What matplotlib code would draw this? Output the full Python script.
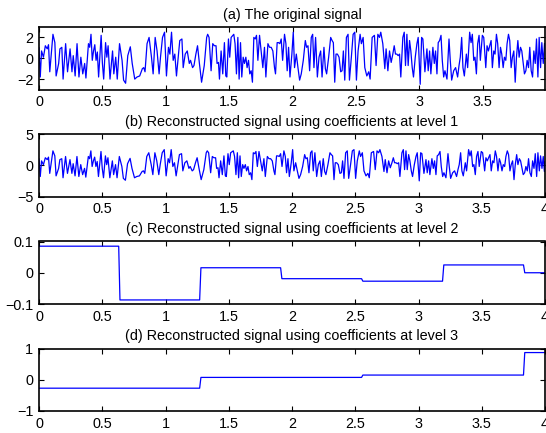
import matplotlib
matplotlib.use("Agg")
import matplotlib.pyplot as plt

plt.rcParams['font.family'] = ['Liberation Sans', 'DejaVu Sans']

# (time, value) vertices
original_seg1 = [(0.00,1.0),(0.01,-1.8),(0.02,0.7),(0.035,0.1),(0.05,1.2),(0.065,0.9),(0.075,1.3),(0.085,-1.3),
    (0.11,2.3),(0.125,1.5),(0.135,-1.7),(0.155,-0.5),(0.165,0.9),(0.18,1.05),(0.19,-2.0),(0.21,1.4),(0.225,-1.3),
    (0.245,0.9),(0.26,-1.3),(0.27,0.25),(0.285,-1.7),(0.30,1.4),(0.315,-1.8),(0.33,0.1),(0.345,-1.5),(0.36,-0.5),
    (0.37,-1.9),(0.39,1.4),(0.40,1.05),(0.41,2.3),(0.42,-0.2),(0.43,0.7),(0.44,1.3),(0.45,-0.2),(0.46,0.6),(0.47,-1.8),
    (0.49,2.2),(0.50,-0.5),(0.51,-2.0),(0.525,1.5),(0.535,0.1),(0.545,1.2),(0.56,-2.0),(0.58,0.7),(0.59,-1.5),
    (0.605,0.1),(0.617,-2.0),(0.635,1.4),(0.655,-0.2),(0.667,-2.1),(0.683,-2.4),(0.70,0.25),(0.72,1.1),(0.735,-0.5),
    (0.755,-2.0),(0.773,-1.8),(0.794,-1.7),(0.815,-1.0),(0.826,-0.9),(0.836,-1.3),(0.852,1.4),(0.868,2.0),(0.887,0.1),
    (0.90,-1.5),(0.916,2.0),(0.931,0.7),(0.947,-1.5),(0.958,0.1),(0.974,2.0),(0.99,2.5),(1.005,-1.7),(1.021,1.05),
    (1.032,0.4),(1.045,2.5),(1.058,-0.2),(1.071,0.4),(1.084,-1.7),(1.098,0.1),(1.11,1.7),(1.127,1.85),(1.137,-0.9),
    (1.153,0.4),(1.169,0.7),(1.185,-0.5),(1.195,-0.2),(1.211,-0.9),(1.222,-0.7),(1.237,0.4),(1.25,1.2),(1.264,-0.4),
    (1.282,-2.3),(1.303,-0.7),(1.322,2.0)]
original_seg2 = [(1.330,2.3),(1.341,2.0),(1.357,-1.2),(1.370,1.4),(1.383,1.2),(1.396,1.2),(1.404,-0.5),(1.415,-0.4),
    (1.423,-2.0),(1.436,0.7),(1.449,-1.5),(1.462,1.5),(1.473,-1.7),(1.481,-1.8),(1.494,1.85),(1.504,0.1),(1.515,2.0),
    (1.536,2.3),(1.546,1.4),(1.557,-1.5),(1.568,2.0),(1.578,-2.0),(1.589,1.5),(1.599,-1.8),(1.610,0.1),(1.620,-0.5),
    (1.631,0.1),(1.641,-0.9),(1.652,-0.2),(1.662,-1.5),(1.673,-1.2),(1.683,-2.3),(1.694,2.0),(1.705,1.85),(1.715,2.2),
    (1.726,-0.2),(1.739,2.2),(1.752,0.7),(1.765,-0.9),(1.778,1.05),(1.789,-1.8),(1.805,1.4),(1.818,1.05),(1.831,1.05),
    (1.844,0.7),(1.857,-0.9),(1.865,-1.5),(1.878,1.5),(1.889,1.5),(1.899,1.4),(1.910,1.85),(1.921,-0.2),(1.936,2.3),
    (1.947,1.4),(1.957,-1.2),(1.968,1.05),(1.979,-1.8),(1.994,0.4),(2.005,2.5),(2.015,-0.9),(2.029,0.4),(2.042,-0.9),
    (2.055,-2.1),(2.068,-1.5),(2.084,-0.2),(2.100,1.7),(2.110,1.05),(2.121,1.2),(2.134,-1.2),(2.147,2.0),(2.158,2.3),
    (2.168,-0.9),(2.181,2.0),(2.195,-1.8),(2.208,0.1),(2.221,0.7),(2.232,-1.8),(2.247,1.05),(2.258,-1.0),(2.268,-1.5),
    (2.284,0.1),(2.300,2.0),(2.311,1.7),(2.321,1.5),(2.332,-2.3),(2.342,0.4),(2.353,0.4),(2.366,0.1),(2.379,-1.3),
    (2.390,-1.2),(2.400,0.7),(2.411,-2.1),(2.424,2.0),(2.437,2.3),(2.448,-2.1),(2.463,0.1),(2.477,2.3),(2.490,2.5),
    (2.503,-2.1),(2.516,0.7),(2.532,2.3),(2.542,1.4),(2.556,2.0),(2.569,-0.9),(2.585,-1.7),(2.600,-1.3),(2.611,-2.0),
    (2.627,2.0)]
original_seg3 = [(2.645,2.2),(2.658,-0.7),(2.672,2.3),(2.685,2.0),(2.695,2.5),(2.711,1.4),(2.727,-1.0),(2.737,0.9),
    (2.751,-1.2),(2.764,0.7),(2.777,-0.4),(2.790,0.4),(2.801,1.2),(2.811,0.4),(2.822,0.4),(2.832,0.25),(2.843,0.4),
    (2.853,-1.8),(2.869,2.0),(2.880,2.5),(2.890,-0.7),(2.901,2.3),(2.911,-0.7),(2.922,1.7),(2.932,0.7),(2.943,-0.9),
    (2.953,-1.8),(2.967,0.1),(2.980,1.4),(2.990,2.0),(3.006,-2.5),(3.017,2.0),(3.027,1.85),(3.043,-1.3),(3.059,0.9),
    (3.069,-1.2),(3.080,0.7),(3.090,-1.5),(3.106,1.05),(3.117,-0.5),(3.127,0.7),(3.138,-1.5),(3.148,1.5),(3.159,1.7),
    (3.170,2.2),(3.180,-0.2),(3.191,-1.8),(3.201,-1.2),(3.217,-2.0),(3.233,1.85),(3.243,-0.2),(3.254,-2.1),(3.270,-1.2),
    (3.285,-0.9),(3.301,-1.8),(3.312,-0.7),(3.322,0.1),(3.333,2.0),(3.343,-0.9),(3.354,-1.7),(3.370,0.4),(3.380,-0.9),
    (3.396,2.5),(3.407,1.5),(3.417,2.3),(3.428,-0.2),(3.438,0.1),(3.449,-1.5),(3.459,1.4),(3.470,2.2),(3.480,-0.2),
    (3.496,2.2),(3.507,2.0),(3.523,-0.9),(3.533,1.2),(3.544,0.7),(3.554,1.2),(3.565,1.7),(3.575,-0.9),(3.586,0.7),
    (3.596,0.4),(3.607,2.3),(3.617,1.4),(3.628,-0.9),(3.639,1.05),(3.649,0.4),(3.660,-0.9),(3.670,0.1),(3.681,-0.2),
    (3.691,1.4),(3.702,2.3),(3.712,1.7),(3.723,-0.9),(3.733,0.1),(3.744,0.7),(3.755,-2.3),(3.765,0.1),(3.776,1.7),
    (3.786,0.1),(3.797,1.05),(3.807,0.7),(3.818,-0.5),(3.828,-1.5),(3.839,-1.2),(3.849,-0.2),(3.860,-0.9),(3.870,1.05),
    (3.881,-1.2),(3.892,-1.8),(3.902,0.7),(3.913,-0.5),(3.923,1.85),(3.934,-1.8),(3.944,2.0),(3.955,-0.9),(3.965,1.5),
    (3.976,-0.5),(3.986,1.4)]

# level-1 reconstruction (visually identical to the original, runs to t = 4)
level1_tail = [(3.995,-1.0),(4.0,0.6)]

# level-2 / level-3 reconstructions: block edges and block values
level2_edges = [0.0, 0.64, 1.28, 1.92, 2.56, 3.20, 3.84, 4.0]
level2_values = [0.085, -0.087, 0.016, -0.019, -0.027, 0.025, 0.0]
level3_edges = [0.0, 1.28, 2.56, 3.84, 4.0]
level3_values = [-0.27, 0.075, 0.15, 0.87]

titles = ["(a) The original signal",
          "(b) Reconstructed signal using coefficients at level 1",
          "(c) Reconstructed signal using coefficients at level 2",
          "(d) Reconstructed signal using coefficients at level 3"]


def steps(edges, values, dt=0.01):
    xs, ys = [], []
    for i, v in enumerate(values):
        xs += [edges[i], edges[i + 1] - dt]
        ys += [v, v]
    xs[-1] = edges[-1]
    return xs, ys


orig = original_seg1 + original_seg2 + original_seg3
ot = [p[0] for p in orig]
ov = [p[1] for p in orig]
l1 = orig + level1_tail
l1t = [p[0] for p in l1]
l1v = [p[1] for p in l1]
l2t, l2v = steps(level2_edges, level2_values)
l3t, l3v = steps(level3_edges, level3_values)

W, H = 546, 433
fig = plt.figure(figsize=(W / 100, H / 100), dpi=100)
left = 39 / W
width = (545 - 39) / W
tops = [27, 134, 241.5, 348.5]
hpx = 62.5

series = [(ot, ov), (l1t, l1v), (l2t, l2v), (l3t, l3v)]
ylims = [(-3, 3), (-5, 5), (-0.1, 0.1), (-1, 1)]
yticks = [[-2, 0, 2], [-5, 0, 5], [-0.1, 0, 0.1], [-1, 0, 1]]
xlims = [(0, 3.99), (0, 4), (0, 4), (0, 4)]
xticks_all = [0, 0.5, 1, 1.5, 2, 2.5, 3, 3.5, 4]

fs = 10.4
for i in range(4):
    b = 1 - (tops[i] + hpx) / H
    ax = fig.add_axes([left, b, width, hpx / H])
    x, y = series[i]
    ax.plot(x, y, color=(0, 0, 1), lw=0.9)
    ax.set_xlim(*xlims[i])
    ax.set_ylim(*ylims[i])
    xt = [v for v in xticks_all if v <= xlims[i][1]]
    ax.set_xticks(xt)
    ax.set_xticklabels([('%g' % v) for v in xt])
    ax.set_yticks(yticks[i])
    ax.set_yticklabels([('%g' % v).replace('-', '\u2212') for v in yticks[i]])
    ax.tick_params(direction='in', top=True, right=True, length=3.5, width=0.8,
                   labelsize=fs, pad=4, colors='black')
    for s in ax.spines.values():
        s.set_linewidth(1.2)
    ax.set_title(titles[i], fontsize=fs, pad=6)

fig.savefig("out.png", dpi=100)
